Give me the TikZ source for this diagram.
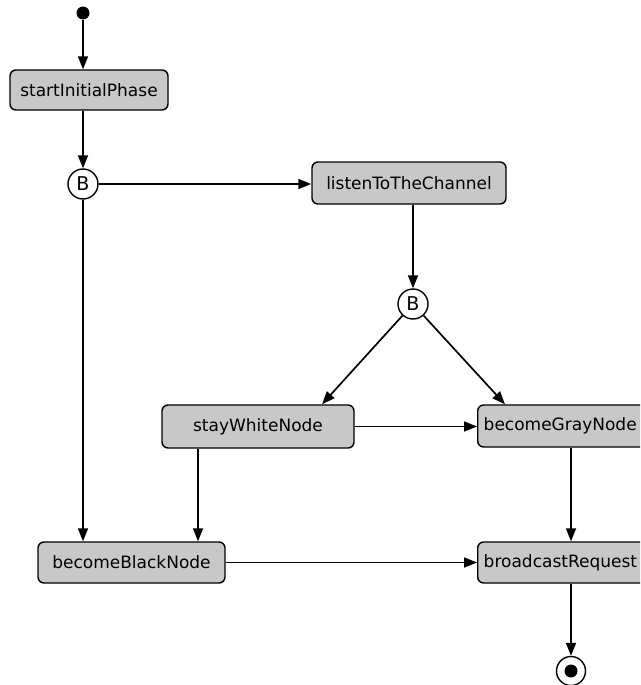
\documentclass[tikz,border=0pt]{standalone}
\usepackage{fontspec}
\setmainfont{DejaVu Sans}
\usetikzlibrary{arrows.meta,calc}
\definecolor{boxgray}{RGB}{200,200,200}
\tikzset{
  actbox/.style={draw=black, fill=boxgray, rounded corners=6pt, line width=1.4pt,
    inner xsep=5pt, inner ysep=0pt, font=\fontsize{17}{19}\selectfont},
  cutbox/.style={actbox, inner xsep=6pt, text width=165pt, align=left, anchor=west},
  branch/.style={draw=black, fill=white, circle, line width=1.4pt, minimum size=30pt,
    inner sep=0pt, font=\fontsize{19}{20}\selectfont},
  conn/.style={line width=1.7pt, -{Triangle[length=13pt,width=10pt]}},
}
\begin{document}
\begin{tikzpicture}[x=1pt,y=-1pt]
\useasboundingbox (0,0) rectangle (640,685);
\clip (0,0) rectangle (640,685);
% nodes
\node[fill=black, circle, minimum size=13pt, inner sep=0pt] (init) at (83,13) {};
\node[actbox, minimum width=158pt, minimum height=40pt] (sip) at (89,90) {startInitialPhase};
\node[branch] (b1) at (83,184) {B};
\node[actbox, minimum width=194pt, minimum height=42pt] (listen) at (409,183) {listenToTheChannel};
\node[branch] (b2) at (413,304) {B};
\node[actbox, minimum width=192pt, minimum height=43pt] (stay) at (258,426.5) {stayWhiteNode};
\node[cutbox, minimum height=42pt] (gray) at (477,426) {becomeGrayNode};
\node[actbox, minimum width=187pt, minimum height=41pt] (black) at (131.5,562.5) {becomeBlackNode};
\node[cutbox, minimum height=41pt] (bcast) at (477,562.5) {broadcastRequest};
\node[draw=black, fill=white, circle, line width=1.4pt, minimum size=29pt, inner sep=0pt,
  path picture={\fill[black] (path picture bounding box.center) circle (6.5pt);}] (final) at (571,671) {};
% connectors
\draw[conn] (init) -- (init |- sip.north);
\draw[conn] (sip.south -| b1) -- (b1);
\draw[conn] (b1) -- (b1 -| listen.west);
\draw[conn] (listen.south -| b2) -- (b2);
\draw[conn] (b2) -- ([xshift=64pt]stay.north);
\draw[conn] (b2) -- ([xshift=28pt]gray.north west);
\draw[conn] (stay.east) -- (stay.east -| gray.west);
\draw[conn] ([xshift=-60pt]stay.south) -- ([xshift=-60pt]stay.south |- black.north);
\draw[conn] (b1) -- (b1 |- black.north);
\draw[conn] (black.east) -- (black.east -| bcast.west);
\draw[conn] ([xshift=94pt]gray.south west) -- ([xshift=94pt]gray.south west |- bcast.north);
\draw[conn] (bcast.south -| final) -- (final);
\end{tikzpicture}
\end{document}
